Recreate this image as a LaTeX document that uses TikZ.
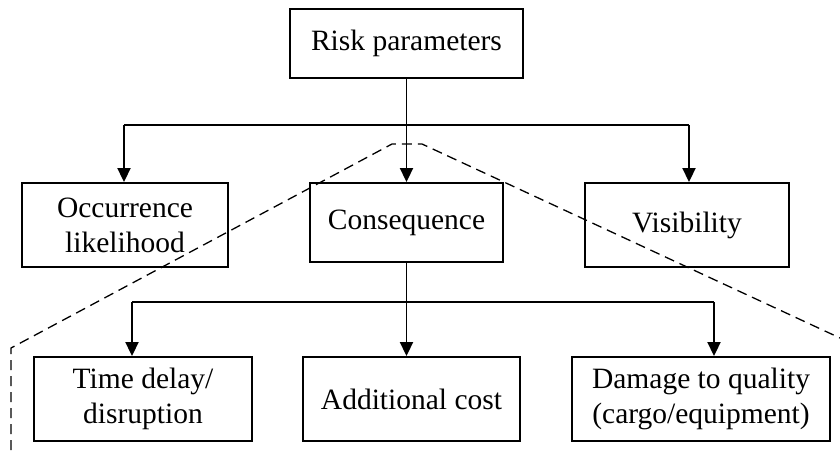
\documentclass[tikz,border=0pt]{standalone}
\usepackage{fontspec}
\setmainfont{Liberation Serif}
\usetikzlibrary{arrows.meta}
\begin{document}
\begin{tikzpicture}[x=1pt,y=-1pt,
  box/.style={draw,line width=1.9pt,inner sep=0pt,align=center,font=\fontsize{29.5}{35}\selectfont},
  conn/.style={line width=1.9pt},
  arr/.style={conn,-{Triangle[width=13pt,length=14pt]}},
  bound/.style={dashed,line width=1.3pt,dash pattern=on 10pt off 6pt}]
\useasboundingbox (0,0) rectangle (840,450);
\node[box,minimum width=233pt,minimum height=69pt] (risk) at (406.5,43.5) {Risk parameters};
\node[box,minimum width=206pt,minimum height=84pt] (occ) at (125,225) {Occurrence\\likelihood};
\node[box,minimum width=193pt,minimum height=79pt] (cons) at (406.5,222.5) {Consequence};
\node[box,minimum width=204pt,minimum height=84pt] (vis) at (687,225) {Visibility};
\node[box,minimum width=218pt,minimum height=84pt] (time) at (143,399) {Time delay/\\disruption};
\node[box,minimum width=217pt,minimum height=84pt] (add) at (411.5,399) {Additional cost};
\node[box,minimum width=258pt,minimum height=84pt] (dam) at (701,399) {Damage to quality\\(cargo/equipment)};
% level 1 connectors
\coordinate (j1) at (406.5,125);
\coordinate (l1) at (124,125);
\coordinate (r1) at (689,125);
\draw[conn] (risk.south) -- (j1);
\draw[conn] (l1) -- (r1);
\draw[arr] (l1) -- (l1 |- occ.north);
\draw[arr] (j1) -- (cons.north);
\draw[arr] (r1) -- (r1 |- vis.north);
% level 2 connectors
\coordinate (j2) at (406.5,302);
\coordinate (l2) at (132,302);
\coordinate (r2) at (714,302);
\draw[conn] (l2) -- (r2);
\draw[arr] (cons.south) -- (cons.south |- add.north);
\draw[arr] (l2) -- (l2 |- time.north);
\draw[arr] (r2) -- (r2 |- dam.north);
% dashed boundary
\coordinate (d1) at (11,450);
\coordinate (d2) at (11,348);
\coordinate (d3) at (392,144);
\coordinate (d4) at (422,144);
\coordinate (d5) at (840,338);
\draw[bound] (d1) -- (d2) -- (d3) -- (d4) -- (d5);
\end{tikzpicture}
\end{document}
